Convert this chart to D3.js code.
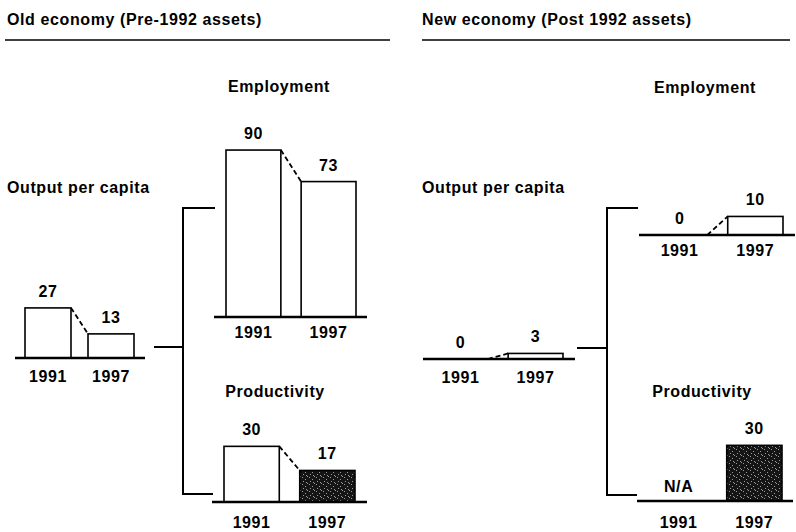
<!DOCTYPE html>
<html>
<head>
<meta charset="utf-8">
<script src="https://cdn.jsdelivr.net/npm/d3@7"></script>
<style>
    body { margin: 0; background: #fff; }
    text {
        font-family: "Liberation Sans", Arial, Helvetica, sans-serif;
        font-weight: bold;
        font-size: 16px;
        letter-spacing: 0.6px;
        fill: #000;
    }
</style>
</head>
<body>
<div id="chart"></div>
<script>
const width = 796,
      height = 532;

// two halves of the page
const sections = [
    {title: "Old economy (Pre-1992 assets)", x: 7, line: [5, 390]},
    {title: "New economy (Post 1992 assets)", x: 422, line: [422, 790]}
];

// one entry per little bar chart, value null = N/A
const panels = [
    {name: "Output per capita", nameX: 7, nameY: 193, anchor: "start",
     axis: [15, 145], bars: [25, 134], base: 358, yearGap: 24,
     data: [{year: "1991", value: 27}, {year: "1997", value: 13}]},
    {name: "Employment", nameX: 279, nameY: 92, anchor: "middle",
     axis: [214, 367], bars: [226, 356], base: 317, yearGap: 21,
     data: [{year: "1991", value: 90}, {year: "1997", value: 73}]},
    {name: "Productivity", nameX: 275, nameY: 397, anchor: "middle",
     axis: [212, 367], bars: [224, 355], base: 502, yearGap: 26,
     data: [{year: "1991", value: 30}, {year: "1997", value: 17, dark: true}]},
    {name: "Output per capita", nameX: 422, nameY: 193, anchor: "start",
     axis: [423, 575], bars: [433, 563], base: 359, yearGap: 24,
     data: [{year: "1991", value: 0}, {year: "1997", value: 3}]},
    {name: "Employment", nameX: 705, nameY: 93, anchor: "middle",
     axis: [639, 795], bars: [652, 783], base: 235, yearGap: 21,
     data: [{year: "1991", value: 0}, {year: "1997", value: 10}]},
    {name: "Productivity", nameX: 702, nameY: 397, anchor: "middle",
     axis: [637, 793], bars: [651, 782], base: 501, yearGap: 27,
     data: [{year: "1991", value: null}, {year: "1997", value: 30, dark: true}]}
];

// brackets joining output per capita to employment / productivity
const brackets = [
    {x: 183, top: 208, bottom: 494, topEnd: 215, bottomEnd: 213, stub: 154, stubY: 347},
    {x: 607, top: 208, bottom: 495, topEnd: 638, bottomEnd: 637, stub: 577, stubY: 348}
];

const svg = d3.select("#chart").append("svg")
    .attr("width", width)
    .attr("height", height);

// speckled dark fill
const pattern = svg.append("defs").append("pattern")
    .attr("id", "speckle")
    .attr("patternUnits", "userSpaceOnUse")
    .attr("width", 7)
    .attr("height", 7);
pattern.append("rect").attr("width", 7).attr("height", 7).attr("fill", "#151515");
[[1, 1], [4, 3], [2, 5], [6, 0], [5, 6]].forEach(p => {
    pattern.append("rect")
        .attr("x", p[0]).attr("y", p[1])
        .attr("width", 1).attr("height", 1)
        .attr("fill", "#9a9a9a");
});

//Section headers
sections.forEach(s => {
    svg.append("text")
        .attr("x", s.x)
        .attr("y", 25)
        .text(s.title);
    svg.append("line")
        .attr("x1", s.line[0]).attr("x2", s.line[1])
        .attr("y1", 40).attr("y2", 40)
        .attr("stroke", "#000")
        .attr("stroke-width", 1.6);
});

// same vertical scale in every panel
const y = d3.scaleLinear()
    .domain([0, 100])
    .range([0, 185.5]);

panels.forEach(p => {
    const x = d3.scaleBand()
        .domain(p.data.map(d => d.year))
        .range(p.bars)
        .paddingInner(0.27)
        .paddingOuter(0);
    const g = svg.append("g");

    g.append("text")
        .attr("x", p.nameX)
        .attr("y", p.nameY)
        .attr("text-anchor", p.anchor)
        .text(p.name);

    //bars
    g.selectAll("rect.bar")
        .data(p.data.filter(d => d.value > 0))
        .enter()
        .append("rect")
        .attr("class", "bar")
        .attr("x", d => x(d.year))
        .attr("y", d => p.base - y(d.value))
        .attr("width", x.bandwidth())
        .attr("height", d => y(d.value))
        .attr("fill", d => d.dark ? "url(#speckle)" : "#fff")
        .attr("stroke", "#000")
        .attr("stroke-width", 1.6);

    //dashed change line
    const a = p.data[0], b = p.data[1];
    if (a.value !== null && b.value !== null) {
        g.append("line")
            .attr("x1", x(a.year) + x.bandwidth())
            .attr("y1", p.base - y(a.value))
            .attr("x2", x(b.year))
            .attr("y2", p.base - y(b.value))
            .attr("stroke", "#000")
            .attr("stroke-width", 1.8)
            .attr("stroke-dasharray", "5,3");
    }

    //baseline
    g.append("line")
        .attr("x1", p.axis[0]).attr("x2", p.axis[1])
        .attr("y1", p.base).attr("y2", p.base)
        .attr("stroke", "#000")
        .attr("stroke-width", 2.6);

    //value labels
    g.selectAll("text.label")
        .data(p.data)
        .enter()
        .append("text")
        .attr("class", "label")
        .attr("text-anchor", "middle")
        .attr("x", d => x(d.year) + x.bandwidth() / 2)
        .attr("y", d => d.value === null ? p.base - 9 : p.base - y(d.value) - 11)
        .text(d => d.value === null ? "N/A" : d.value);

    //year labels
    g.selectAll("text.year")
        .data(p.data)
        .enter()
        .append("text")
        .attr("class", "year")
        .attr("text-anchor", "middle")
        .attr("x", d => x(d.year) + x.bandwidth() / 2)
        .attr("y", p.base + p.yearGap)
        .text(d => d.year);
});

brackets.forEach(k => {
    svg.append("path")
        .attr("d", "M" + k.topEnd + "," + k.top + "H" + k.x + "V" + k.bottom + "H" + k.bottomEnd
            + "M" + k.stub + "," + k.stubY + "H" + k.x)
        .attr("fill", "none")
        .attr("stroke", "#000")
        .attr("stroke-width", 2);
});
</script>
</body>
</html>
